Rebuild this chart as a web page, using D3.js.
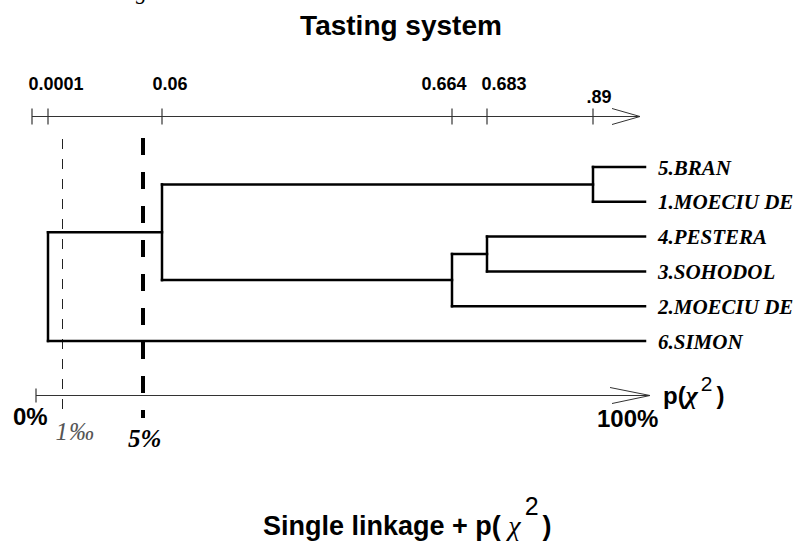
<!DOCTYPE html>
<html>
<head>
<meta charset="utf-8">
<script src="https://cdn.jsdelivr.net/npm/d3@7"></script>
<style>
  html, body { margin: 0; padding: 0; background: #fff; }
  svg { display: block; }
  .title { font-family: "Liberation Sans", Arial, sans-serif; font-weight: bold; }
  .tickLabel { font-family: "Liberation Sans", Arial, sans-serif; font-weight: bold; }
  .leaf { font-family: "Liberation Serif", "Times New Roman", serif; font-style: italic; font-weight: bold; }
  .chi { font-family: "Liberation Serif", "Times New Roman", serif; font-style: italic; }
</style>
</head>
<body>
<div id="chart"></div>
<script>
// dendrogram leaves, top to bottom
const leaves = ["5.BRAN", "1.MOECIU DE", "4.PESTERA", "3.SOHODOL", "2.MOECIU DE", "6.SIMON"];

// merges: p(chi2) level at which two clusters join
const merges = [
  { id: "c1", a: "5.BRAN", b: "1.MOECIU DE", p: 0.89 },
  { id: "c2", a: "4.PESTERA", b: "3.SOHODOL", p: 0.683 },
  { id: "c3", a: "c2", b: "2.MOECIU DE", p: 0.664 },
  { id: "c4", a: "c1", b: "c3", p: 0.06 },
  { id: "c5", a: "c4", b: "6.SIMON", p: 0.0001 }
];

// top axis ticks
const tickValues = [0.0001, 0.06, 0.664, 0.683, 0.89];
const tickLabels = ["0.0001", "0.06", "0.664", "0.683", ".89"];

// significance thresholds
const thresholds = [
  { value: 0.001, label: "1\u2030" },
  { value: 0.05, label: "5%" }
];

const width = 804, height = 542;

const svg = d3.select("#chart").append("svg")
  .attr("width", width)
  .attr("height", height)
  .attr("viewBox", `0 0 ${width} ${height}`);

// the figure's axis is schematic, not linear: piecewise scale through the labelled levels
const xScale = d3.scaleLinear()
  .domain([0, 0.0001, 0.001, 0.05, 0.06, 0.664, 0.683, 0.89, 1])
  .range([32, 48, 62.5, 143, 162, 452, 487, 593, 645]);

const pctScale = d3.scaleLinear().domain([0, 1]).range([36, 650]);

const yScale = d3.scalePoint()
  .domain(leaves)
  .range([167, 341]);

// leftover caption descender from the page above
svg.append("text")
  .attr("x", 136).attr("y", -1)
  .style("font-family", "Liberation Serif, serif")
  .style("font-style", "italic")
  .style("font-size", "22px")
  .text("g");

svg.append("text")
  .classed("title", true)
  .attr("x", 401).attr("y", 35)
  .attr("text-anchor", "middle")
  .style("font-size", "28px")
  .text("Tasting system");

// ---- top axis
const topY = 116.5;
const topAxis = svg.append("g").attr("stroke", "#333").attr("stroke-width", 1.2).attr("fill", "none");
topAxis.append("line").attr("x1", xScale(0)).attr("x2", 640).attr("y1", topY).attr("y2", topY);
topAxis.selectAll("line.tick")
  .data([0].concat(tickValues))
  .enter().append("line")
    .classed("tick", true)
    .attr("x1", d => xScale(d)).attr("x2", d => xScale(d))
    .attr("y1", topY - 8).attr("y2", topY + 8);
topAxis.append("path").attr("stroke-width", 1).attr("d", `M612,${topY - 8}L640,${topY}L612,${topY + 8}`);

const labelDx = [8, 8, -8, 17, 6];
svg.append("g").selectAll("text")
  .data(tickValues)
  .enter().append("text")
    .classed("tickLabel", true)
    .attr("x", (d, i) => xScale(d) + labelDx[i])
    .attr("y", (d, i) => i === tickValues.length - 1 ? 103 : 90)
    .attr("text-anchor", "middle")
    .style("font-size", "18px")
    .text((d, i) => tickLabels[i]);

// ---- threshold lines
svg.append("line")
  .attr("x1", xScale(thresholds[0].value)).attr("x2", xScale(thresholds[0].value))
  .attr("y1", 139).attr("y2", 414)
  .attr("stroke", "#222").attr("stroke-width", 1)
  .attr("stroke-dasharray", "10,10");

svg.append("line")
  .attr("x1", xScale(thresholds[1].value)).attr("x2", xScale(thresholds[1].value))
  .attr("y1", 138).attr("y2", 418)
  .attr("stroke", "#000").attr("stroke-width", 4)
  .attr("stroke-dasharray", "17,17");

// ---- dendrogram
const nodes = {};
leaves.forEach(name => { nodes[name] = { name, p: 1, y: yScale(name) }; });
merges.forEach(m => {
  const a = nodes[m.a], b = nodes[m.b];
  nodes[m.id] = { name: m.id, p: m.p, children: [a, b], y: (a.y + b.y) / 2 };
});
const root = d3.hierarchy(nodes[merges[merges.length - 1].id]);

const tree = svg.append("g")
  .attr("stroke", "#000").attr("stroke-width", 2.5).attr("fill", "none")
  .attr("stroke-linecap", "square");

root.descendants().filter(d => d.children).forEach(d => {
  const x = xScale(d.data.p);
  const ys = d.children.map(c => c.data.y);
  tree.append("line").attr("x1", x).attr("x2", x).attr("y1", d3.min(ys)).attr("y2", d3.max(ys));
  d.children.forEach(c => {
    tree.append("line")
      .attr("x1", x).attr("x2", xScale(c.data.p))
      .attr("y1", c.data.y).attr("y2", c.data.y);
  });
});

svg.append("g").selectAll("text")
  .data(root.leaves())
  .enter().append("text")
    .classed("leaf", true)
    .attr("x", xScale(1) + 13)
    .attr("y", d => d.data.y + 7.5)
    .style("font-size", "21px")
    .text(d => d.data.name);

// ---- bottom axis
const botY = 395.5;
const botAxis = svg.append("g").attr("stroke", "#333").attr("stroke-width", 1.2).attr("fill", "none");
botAxis.append("line").attr("x1", pctScale(0)).attr("x2", pctScale(1)).attr("y1", botY).attr("y2", botY);
botAxis.append("line").attr("x1", pctScale(0)).attr("x2", pctScale(0)).attr("y1", botY - 7).attr("y2", botY + 7);
botAxis.append("path").attr("stroke-width", 1).attr("d", `M610,${botY - 8}L${pctScale(1)},${botY}L612,${botY + 8}`);

svg.append("text").classed("title", true)
  .attr("x", 13).attr("y", 425).style("font-size", "24px").text("0%");
svg.append("text").classed("title", true)
  .attr("x", 597).attr("y", 427).style("font-size", "24px").text("100%");

svg.append("text")
  .attr("x", xScale(thresholds[0].value) - 7).attr("y", 440)
  .style("font-family", "Liberation Serif, serif").style("font-style", "italic")
  .style("font-size", "25px").style("letter-spacing", "1px").attr("fill", "#555")
  .text(thresholds[0].label);

svg.append("text")
  .attr("x", xScale(thresholds[1].value) - 15).attr("y", 447)
  .style("font-family", "Liberation Serif, serif").style("font-style", "italic").style("font-weight", "bold")
  .style("font-size", "25px")
  .text(thresholds[1].label);

// p(chi^2) axis name
const axisName = svg.append("text").attr("x", 663).attr("y", 404).style("font-size", "24px");
axisName.append("tspan").attr("class", "title").text("p(");
axisName.append("tspan").attr("class", "chi").style("font-weight", "bold").style("font-size", "26px").text("\u03c7");
axisName.append("tspan").style("font-family", "Liberation Sans, sans-serif").attr("dy", -13).attr("dx", 3).style("font-size", "21px").text("2");
axisName.append("tspan").attr("class", "title").attr("dy", 13).attr("dx", 4).text(")");

// bottom caption
const caption = svg.append("text").attr("x", 263).attr("y", 535).style("font-size", "27px");
caption.append("tspan").attr("class", "title").text("Single linkage + p( ");
caption.append("tspan").attr("class", "chi").style("font-size", "28px").text("\u03c7");
caption.append("tspan").style("font-family", "Liberation Sans, sans-serif").attr("dy", -20).attr("dx", 4).style("font-size", "25px").text("2");
caption.append("tspan").attr("class", "title").attr("dy", 20).attr("dx", 4).text(")");
</script>
</body>
</html>
